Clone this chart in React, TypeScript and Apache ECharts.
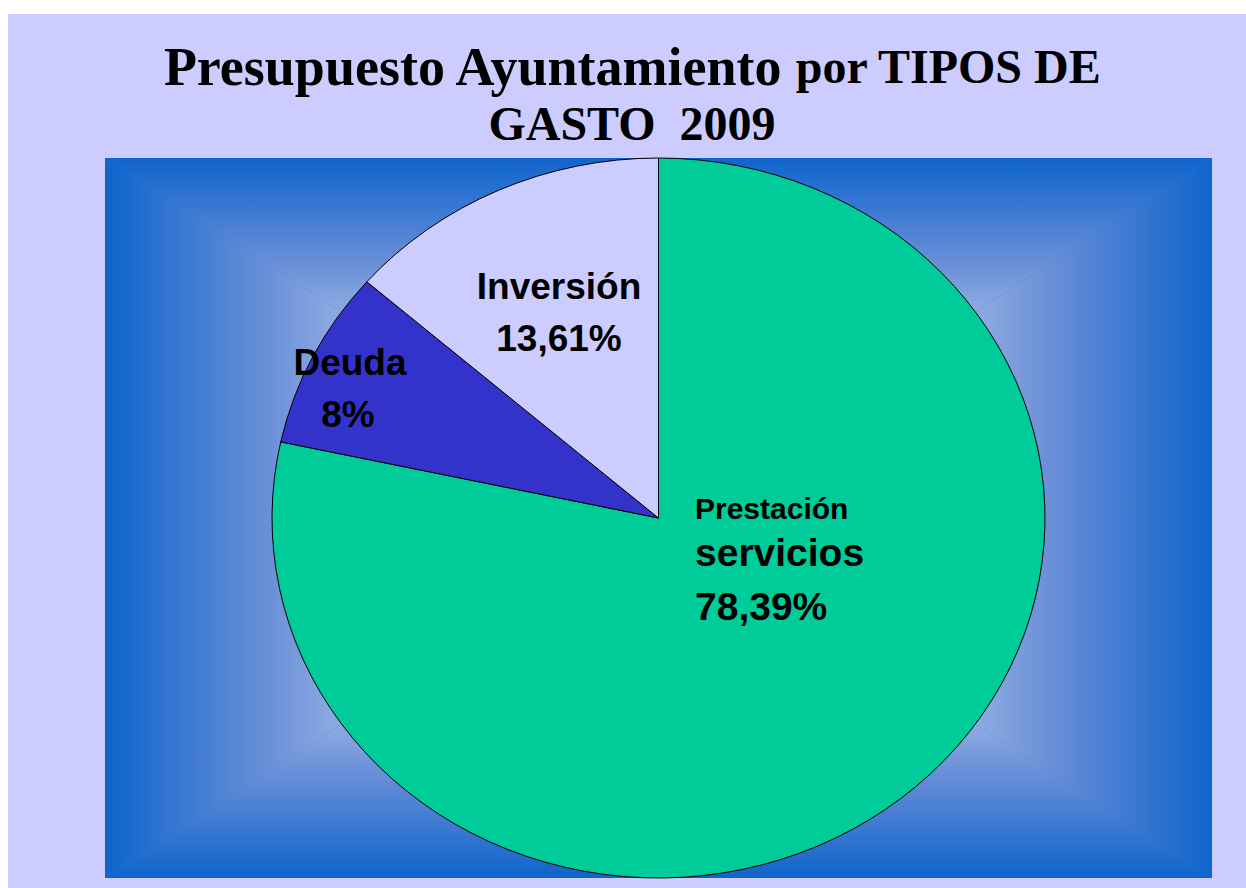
import React, { useEffect, useRef } from "react";
import * as echarts from "echarts";

// ---- data ----
const categories = ["Prestación servicios", "Deuda", "Inversión"];
const values = [78.39, 8, 13.61];
const labelNames = [["Prestación", "servicios"], ["Deuda"], ["Inversión"]];
const sliceColors = ["#00CC99", "#3333CC", "#CCCCFF"];
const titleMain = "Presupuesto Ayuntamiento";
const titleRest = "por TIPOS DE";
const titleLine2 = "GASTO  2009";

// ---- layout ----
const PL = 105, PT = 158, PR = 1212, PB = 878;
const CX = 658.5, CY = 518, RX = 386.5, RY = 360;
const SANS = '"Liberation Sans", Arial, Helvetica, sans-serif';
const SERIF = '"Liberation Serif", "Times New Roman", Times, serif';

type LP = { x: number; y: number; size: number; align: string };
const labelLayout: LP[][] = [
  [
    { x: 695, y: 508.5, size: 30, align: "left" },
    { x: 695, y: 552, size: 39, align: "left" },
    { x: 695, y: 606, size: 39, align: "left" },
  ],
  [
    { x: 350, y: 362.5, size: 37, align: "center" },
    { x: 348, y: 414.5, size: 37, align: "center" },
  ],
  [
    { x: 559, y: 286.5, size: 37, align: "center" },
    { x: 559, y: 338.5, size: 37, align: "center" },
  ],
];

const fmtPct = (v: number) => String(v).replace(".", ",") + "%";

const gradStops = [
  { offset: 0, color: "#0F64CC" },
  { offset: 0.3, color: "#6C90D8" },
  { offset: 0.4, color: "#88A6E0" },
  { offset: 1, color: "#D0DCF6" },
];
const lg = (x: number, y: number, x2: number, y2: number) => ({
  type: "linear",
  x,
  y,
  x2,
  y2,
  colorStops: gradStops,
});

export default function App() {
  const ref = useRef<HTMLDivElement>(null);
  useEffect(() => {
    if (!ref.current) return;
    const chart = echarts.init(ref.current, undefined, { renderer: "svg" });
    const total = values.reduce((a, b) => a + b, 0);
    const bx = (PL + PR) / 2, by = (PT + PB) / 2;
    chart.setOption({
      animation: false,
      backgroundColor: "#ffffff",
      graphic: {
        elements: [
          { type: "rect", z: 0, shape: { x: 8, y: 14, width: 1238, height: 874 }, style: { fill: "#CCCCFF" } },
          { type: "rect", z: 1, shape: { x: PL, y: PT, width: PR - PL, height: PB - PT }, style: { fill: "#2A70D2" } },
          { type: "polygon", z: 2, shape: { points: [[PL, PT], [bx, by], [PL, PB]] }, style: { fill: lg(0, 0, 1, 0) } },
          { type: "polygon", z: 2, shape: { points: [[PR, PT], [PR, PB], [bx, by]] }, style: { fill: lg(1, 0, 0, 0) } },
          { type: "polygon", z: 2, shape: { points: [[PL, PT], [PR, PT], [bx, by]] }, style: { fill: lg(0, 0, 0, 1) } },
          { type: "polygon", z: 2, shape: { points: [[PL, PB], [PR, PB], [bx, by]] }, style: { fill: lg(0, 1, 0, 0) } },
          {
            type: "text",
            z: 20,
            x: 632,
            y: 38,
            style: {
              text: `{a|${titleMain}}{b| ${titleRest}}\n{b|${titleLine2}}`,
              align: "center",
              textAlign: "center",
              verticalAlign: "top",
              textVerticalAlign: "top",
              fill: "#000",
              rich: {
                a: { font: `bold 54px ${SERIF}`, lineHeight: 57, fill: "#000" },
                b: { font: `bold 48px ${SERIF}`, lineHeight: 57, fill: "#000" },
              },
            },
          },
        ],
      },
      series: [
        {
          type: "custom",
          coordinateSystem: "none",
          z: 10,
          silent: true,
          data: values.map((v, i) => ({ name: categories[i], value: [v] })),
          renderItem: (params: any, api: any) => {
            const i = params.dataIndex;
            let start = 0;
            for (let k = 0; k < i; k++) start += values[k];
            const v = api.value(0);
            const a0 = (start / total) * Math.PI * 2;
            const a1 = ((start + v) / total) * Math.PI * 2;
            const pt = (a: number) => [CX + RX * Math.sin(a), CY - RY * Math.cos(a)];
            const p0 = pt(a0), p1 = pt(a1);
            const large = a1 - a0 > Math.PI ? 1 : 0;
            const d = `M${CX} ${CY}L${p0[0]} ${p0[1]}A${RX} ${RY} 0 ${large} 1 ${p1[0]} ${p1[1]}Z`;
            const lines = [...labelNames[i], fmtPct(v)];
            const children: any[] = [
              {
                type: "path",
                shape: { pathData: d },
                style: { fill: sliceColors[i], stroke: "#000", lineWidth: 1 },
              },
            ];
            lines.forEach((t, j) => {
              const lp = labelLayout[i][j];
              children.push({
                type: "text",
                x: lp.x,
                y: lp.y,
                z2: 10,
                style: {
                  text: t,
                  fill: "#000",
                  font: `bold ${lp.size}px ${SANS}`,
                  align: lp.align,
                  textAlign: lp.align,
                  verticalAlign: "middle",
                  textVerticalAlign: "middle",
                },
              });
            });
            return { type: "group", children };
          },
        },
      ],
    });
    return () => chart.dispose();
  }, []);
  return (
    <div
      ref={ref}
      style={{ position: "absolute", left: 0, top: 0, width: 1246, height: 888 }}
    />
  );
}
